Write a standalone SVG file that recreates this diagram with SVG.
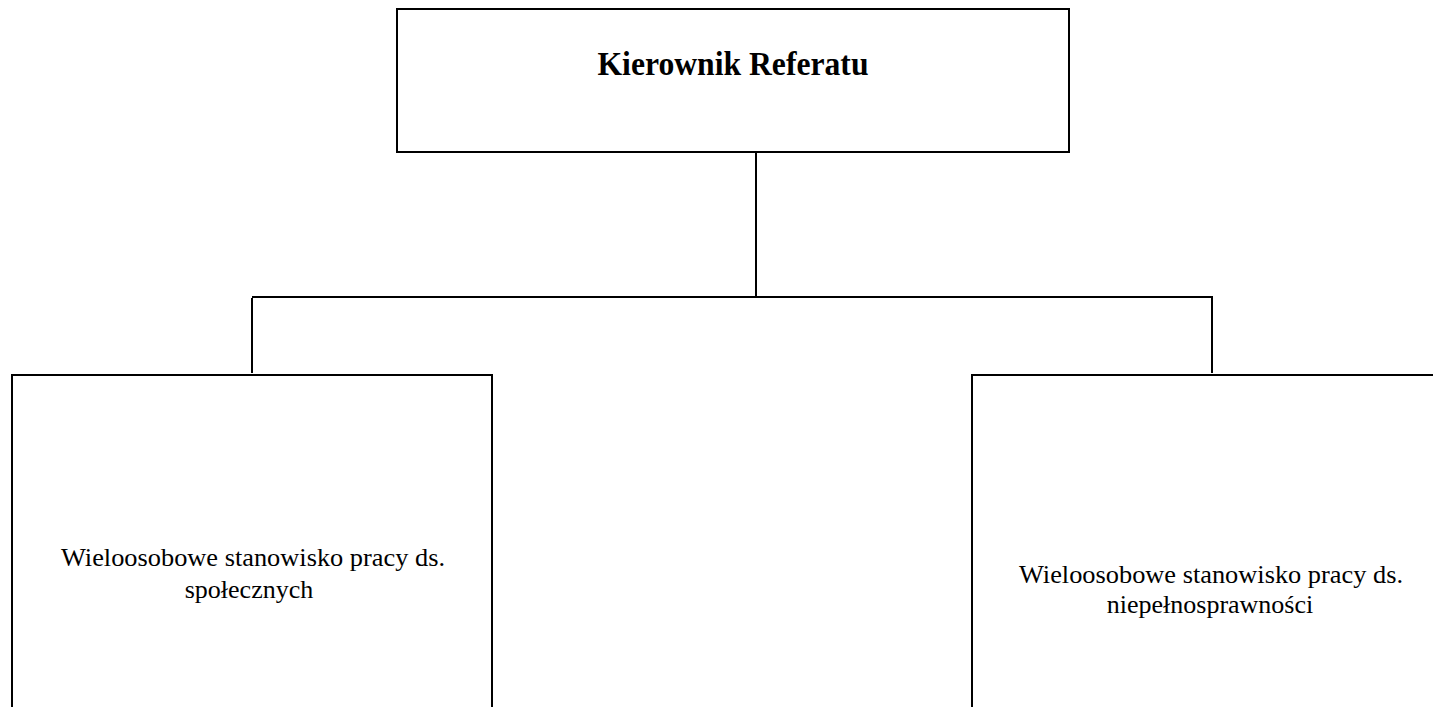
<svg xmlns="http://www.w3.org/2000/svg" width="1433" height="707" viewBox="0 0 1433 707">
<style>
.box{fill:#fff;stroke:#000;stroke-width:2}
.conn{fill:none;stroke:#000;stroke-width:2}
.title{font-family:"Liberation Serif","Times New Roman",serif;font-weight:bold;font-size:33px;fill:#000;text-anchor:middle}
.lbl{font-family:"Liberation Serif","Times New Roman",serif;font-size:26px;fill:#000;text-anchor:middle}
</style>
<rect width="1433" height="707" fill="#fff"/>
<g id="connectors">
<line class="conn" x1="756" y1="153" x2="756" y2="297"/>
<line class="conn" x1="252" y1="297" x2="1213" y2="297"/>
<line class="conn" x1="252" y1="298" x2="252" y2="373"/>
<line class="conn" x1="1212" y1="298" x2="1212" y2="373"/>
</g>
<g id="kierownik">
<rect class="box" x="397" y="9" width="672" height="143"/>
<text class="title" x="733" y="75" textLength="271" lengthAdjust="spacingAndGlyphs">Kierownik Referatu</text>
</g>
<g id="spoleczne">
<rect class="box" x="12" y="375" width="480" height="340"/>
<text class="lbl" x="253" y="566" textLength="384" lengthAdjust="spacingAndGlyphs">Wieloosobowe stanowisko pracy ds.</text>
<text class="lbl" x="249" y="598">społecznych</text>
</g>
<g id="niepelnosprawnosc">
<rect class="box" x="972" y="375" width="480" height="340"/>
<text class="lbl" x="1211" y="583" textLength="384" lengthAdjust="spacingAndGlyphs">Wieloosobowe stanowisko pracy ds.</text>
<text class="lbl" x="1210" y="613">niepełnosprawności</text>
</g>
</svg>
